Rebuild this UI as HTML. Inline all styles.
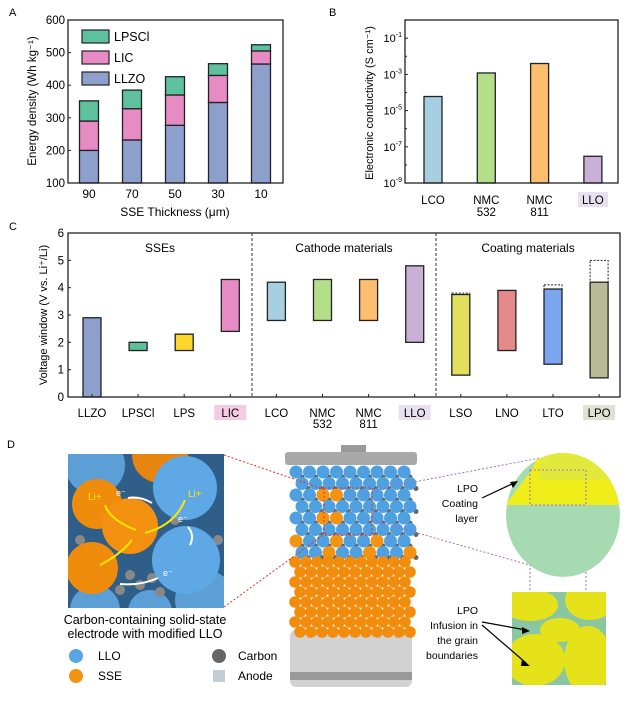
<!DOCTYPE html>
<html><head><meta charset="utf-8"><style>
html,body{margin:0;padding:0;background:#fff;}
svg{display:block;font-family:"Liberation Sans",Arial,sans-serif;}
</style></head><body>
<svg id="fig" width="631" height="705" viewBox="0 0 631 705">
<defs>
<clipPath id="insetClip"><rect x="68" y="454" width="156" height="154"/></clipPath>
<clipPath id="sphClip"><ellipse cx="563" cy="515" rx="57" ry="62"/></clipPath>
<clipPath id="gbClip"><rect x="512" y="592" width="94" height="93"/></clipPath>
</defs>
<text x="9" y="16" font-size="11">A</text>
<text x="329" y="16" font-size="11">B</text>
<text x="9" y="230" font-size="11">C</text>
<text x="7" y="448" font-size="11">D</text>
<g id="gA"></g>
<g id="gB"></g>
<g id="gC"></g>
<g id="gD">
  <g clip-path="url(#insetClip)">
  <rect x="68" y="454" width="156" height="154" fill="#2f5f88"/>
  <circle cx="95" cy="465" r="30" fill="#5b9fd6"/><circle cx="160" cy="455" r="28" fill="#e6850f"/>
  <circle cx="205" cy="600" r="30" fill="#5b9fd6"/><circle cx="95" cy="610" r="25" fill="#5b9fd6"/><circle cx="150" cy="612" r="22" fill="#5b9fd6"/>
  <g fill="#888"><circle cx="130" cy="575" r="5"/><circle cx="140" cy="585" r="5"/><circle cx="152" cy="578" r="5"/><circle cx="175" cy="520" r="5"/><circle cx="80" cy="540" r="5"/><circle cx="218" cy="540" r="5"/><circle cx="120" cy="590" r="5"/><circle cx="160" cy="592" r="5"/></g>
  <circle cx="97" cy="504" r="25" fill="#f08c0c"/>
  <circle cx="185" cy="488" r="32" fill="#5ea8e6"/>
  <circle cx="186" cy="560" r="34" fill="#5ea8e6"/>
  <circle cx="130" cy="526" r="28" fill="#f4900f"/>
  <circle cx="92" cy="568" r="26" fill="#f08c0c"/>
  </g>
  <text x="88" y="500" font-size="10" fill="#ffe600">Li+</text>
  <text x="188" y="497" font-size="10" fill="#ffe600">Li+</text>
  <text x="116" y="496" font-size="9" fill="#fff">e⁻</text>
  <text x="178" y="522" font-size="9" fill="#fff">e⁻</text>
  <text x="163" y="576" font-size="9" fill="#fff">e⁻</text>
  <path d="M105,505 Q110,520 136,530 M185,500 Q175,525 145,533 M132,540 Q120,555 100,565" stroke="#ffe600" stroke-width="2" fill="none"/>
  <path d="M128,498 Q140,496 152,503 M188,527 Q195,535 190,545 M158,578 Q140,586 120,584" stroke="#fff" stroke-width="2" fill="none"/>
  <text x="145" y="624" font-size="12.5" text-anchor="middle">Carbon-containing solid-state</text>
  <text x="145" y="638" font-size="12.5" text-anchor="middle">electrode with modified LLO</text>
  <circle cx="76" cy="656" r="7" fill="#5aa6e4"/>
  <text x="98" y="660" font-size="12">LLO</text>
  <circle cx="76" cy="676" r="7" fill="#f29312"/>
  <text x="98" y="680" font-size="12">SSE</text>
  <circle cx="219" cy="656" r="7" fill="#666"/>
  <text x="238" y="660" font-size="12">Carbon</text>
  <rect x="213" y="670" width="12" height="12" fill="#c4ccd6"/>
  <text x="238" y="680" font-size="12">Anode</text>
  <!-- battery -->
  <rect x="341" y="445" width="25" height="9" fill="#9a9a9a"/>
  <rect x="285" y="452" width="132" height="13" rx="3" fill="#a9a9a9"/>
  <rect x="290" y="630" width="122" height="57" rx="6" fill="#d2d2d2"/>
  <rect x="290" y="672" width="122" height="8" fill="#9a9a9a"/>
  <g id="bat"></g>
  <rect x="324" y="488" width="48" height="47" fill="none" stroke="#e03030" stroke-dasharray="2,2"/>
  <path d="M224,455 L326,490 M224,607 L326,533" stroke="#e03030" stroke-dasharray="2,2" fill="none"/>
  <path d="M372,490 L540,458 M372,520 L540,568 M530,488 L530,592 M586,488 L586,592" stroke="#a070c0" stroke-dasharray="2,2" fill="none"/>
  <!-- sphere -->
  <g clip-path="url(#sphClip)">
  <ellipse cx="563" cy="515" rx="57" ry="62" fill="#a6dbb2"/>
  <path d="M505,505 L620,505 L620,450 L540,450 L532,470 Z" fill="#f0ee1a"/>
  <rect x="540" y="450" width="80" height="30" fill="#e3e93a"/>
  </g>
  <rect x="530" y="470" width="56" height="35" fill="none" stroke="#a070c0" stroke-dasharray="2,2"/>
  <text x="478" y="492" font-size="10.5" text-anchor="end">LPO</text>
  <text x="478" y="507" font-size="10.5" text-anchor="end">Coating</text>
  <text x="478" y="522" font-size="10.5" text-anchor="end">layer</text>
  <path d="M482,498 L514,483" stroke="#000" stroke-width="1.2"/>
  <polygon points="518,481 510,482 513,488"/>
  <g clip-path="url(#gbClip)">
  <rect x="512" y="592" width="94" height="93" fill="#8ac6a0"/>
  <ellipse cx="530" cy="605" rx="28" ry="16" fill="#e6e21a"/>
  <ellipse cx="590" cy="600" rx="25" ry="20" fill="#e6e21a"/>
  <ellipse cx="535" cy="660" rx="30" ry="26" fill="#e6e21a"/>
  <ellipse cx="588" cy="660" rx="24" ry="34" fill="#e6e21a"/>
  <ellipse cx="560" cy="630" rx="20" ry="12" fill="#e6e21a"/>
  </g>
  <text x="478" y="614" font-size="10.5" text-anchor="end">LPO</text>
  <text x="478" y="629" font-size="10.5" text-anchor="end">Infusion in</text>
  <text x="478" y="644" font-size="10.5" text-anchor="end">the grain</text>
  <text x="478" y="659" font-size="10.5" text-anchor="end">boundaries</text>
  <path d="M482,622 L526,630 M482,625 L526,663" stroke="#000" stroke-width="1.2"/>
  <polygon points="530,631 522,627 522,634"/><polygon points="530,666 522,659 521,666"/>
</g>
</svg>
<script>
const NS="http://www.w3.org/2000/svg";
function mk(p,t,a,txt){const e=document.createElementNS(NS,t);for(const k in a)e.setAttribute(k,a[k]);if(txt!==undefined)e.textContent=txt;p.appendChild(e);return e;}

// ---- Panel A data ----
const thicknessLabels=["90","70","50","30","10"];
const llzoEnergy=[200,232,277,347,465];
const licEnergy=[290,328,370,430,505];
const lpsclEnergy=[352,385,426,466,524];
const aTicks=[100,200,300,400,500,600];

// ---- Panel B data ----
const bCats=["LCO","NMC","NMC","LLO"];
const bCats2=["","532","811",""];
const bConduct=[6e-5,1.2e-3,4e-3,3e-8];
const bTickExp=[-1,-3,-5,-7,-9];

// ---- Panel C data ----
const cCats=["LLZO","LPSCl","LPS","LIC","LCO","NMC","NMC","LLO","LSO","LNO","LTO","LPO"];
const cCats2=["","","","","","532","811","","","","",""];
const cLow=[0,1.7,1.7,2.4,2.8,2.8,2.8,2.0,0.8,1.7,1.2,0.7];
const cHigh=[2.9,2.0,2.3,4.3,4.2,4.3,4.3,4.8,3.75,3.9,3.95,4.2];
const cDotted=[null,null,null,null,null,null,null,null,3.8,null,4.1,5.0];
const cTicks=[0,1,2,3,4,5,6];

// Panel A
(function(){
 const g=document.getElementById('gA');
 const L=68,R=283,T=20,B=183;
 const y=v=>B-(v-100)*(B-T)/500;
 const x=i=>89+i*43;
 const cols={llzo:"#8d9fcb",lic:"#e68bc3",lpscl:"#5cc19c"};
 for(let i=0;i<thicknessLabels.length;i++){
  const w=19,xx=x(i)-w/2;
  let r=mk(g,'rect',{x:xx,y:y(llzoEnergy[i]),width:w,height:y(100)-y(llzoEnergy[i]),fill:cols.llzo,stroke:"#222","stroke-width":1.3});
  
  r=mk(g,'rect',{x:xx,y:y(licEnergy[i]),width:w,height:y(llzoEnergy[i])-y(licEnergy[i]),fill:cols.lic,stroke:"#222","stroke-width":1.3});
  
  r=mk(g,'rect',{x:xx,y:y(lpsclEnergy[i]),width:w,height:y(licEnergy[i])-y(lpsclEnergy[i]),fill:cols.lpscl,stroke:"#222","stroke-width":1.3});
  
  const t=mk(g,'text',{x:x(i),y:198,"font-size":12,"text-anchor":"middle"},thicknessLabels[i]);
  
 }
 const f=mk(g,'rect',{x:L,y:T,width:R-L,height:B-T,fill:"none",stroke:"#222","stroke-width":1.3});
 
 aTicks.forEach(v=>{mk(g,'line',{x1:L,x2:L+3,y1:y(v),y2:y(v),stroke:"#222"});
  const t=mk(g,'text',{x:L-3,y:y(v)+4,"font-size":11.5,"text-anchor":"end"},v);
  });
 const leg=[["LPSCl",cols.lpscl,36],["LIC",cols.lic,57],["LLZO",cols.llzo,78]];
 leg.forEach(l=>{const r=mk(g,'rect',{x:82,y:l[2]-6,width:27,height:13,fill:l[1],stroke:"#222","stroke-width":1.2});
  
  const t=mk(g,'text',{x:114,y:l[2]+5,"font-size":12.5},l[0]);
  });
 let t=mk(g,'text',{x:175,y:216,"font-size":12,"text-anchor":"middle"},"SSE Thickness (μm)");
 
 t=mk(g,'text',{x:0,y:0,"font-size":11.5,"text-anchor":"middle",transform:"translate(36,101) rotate(-90)"},"Energy density (Wh kg⁻¹)");
 
})();

// Panel B
(function(){
 const g=document.getElementById('gB');
 const L=405,R=618,T=20,B=183;
 const y=v=>B-(Math.log10(v)+9)*18.1;
 const x=i=>433+i*53.3;
 const cols=["#a6cfe2","#b3de8a","#fdbf6f","#c9b0d6"];
 mk(g,'rect',{x:x(3)-15,y:192,width:30,height:15,fill:"#e8dff0"});
 for(let i=0;i<bCats.length;i++){
  const r=mk(g,'rect',{x:x(i)-9,y:y(bConduct[i]),width:18,height:B-y(bConduct[i]),fill:cols[i],stroke:"#222","stroke-width":1.3});
  
  let t=mk(g,'text',{x:x(i),y:204,"font-size":11.5,"text-anchor":"middle"},bCats[i]);
  
  if(bCats2[i]){t=mk(g,'text',{x:x(i),y:216,"font-size":11.5,"text-anchor":"middle"},bCats2[i]);
   }
 }
 const f=mk(g,'rect',{x:L,y:T,width:R-L,height:B-T,fill:"none",stroke:"#222","stroke-width":1.3});
 
 bTickExp.forEach(e=>{const yy=y(Math.pow(10,e));mk(g,'line',{x1:L,x2:L+3,y1:yy,y2:yy,stroke:"#222"});
  mk(g,'line',{x1:L,x2:L+2,y1:yy-18.1,y2:yy-18.1,stroke:"#222"});
  const t=mk(g,'text',{x:L-3,y:yy+4,"font-size":11,"text-anchor":"end"});
  
  t.appendChild(document.createTextNode("10"));
  mk(t,'tspan',{dy:-5,"font-size":7},String(e));});
 const t=mk(g,'text',{x:0,y:0,"font-size":11,"text-anchor":"middle",transform:"translate(373,103) rotate(-90)"},"Electronic conductivity (S cm⁻¹)");
 
})();

// Panel C
(function(){
 const g=document.getElementById('gC');
 const L=68,R=620,T=233,B=397;
 const y=v=>B-v*(B-T)/6;
 const x=i=>92+i*46.1;
 const cols=["#8d9fcb","#5cc19c","#fdd52c","#e68bc3","#a6cfe2","#b3de8a","#fdbf6f","#c9b0d6","#e2df5d","#e58a8a","#7ca7ef","#b8bb96"];
 const hl={3:"#f4cbe3",7:"#e8dff0",11:"#dfe2d2"};
 for(const k in hl) mk(g,'rect',{x:x(+k)-16,y:405,width:32,height:15,fill:hl[k]});
 for(let i=0;i<cCats.length;i++){
  if(cDotted[i]!==null){const d=mk(g,'rect',{x:x(i)-9,y:y(cDotted[i]),width:18,height:y(cHigh[i])-y(cDotted[i]),fill:"none",stroke:"#222","stroke-dasharray":"2,1.5"});
   }
  const r=mk(g,'rect',{x:x(i)-9,y:y(cHigh[i]),width:18,height:y(cLow[i])-y(cHigh[i]),fill:cols[i],stroke:"#222","stroke-width":1.3});
  
  mk(g,'line',{x1:x(i),x2:x(i),y1:B,y2:B-3,stroke:"#222"});
  let t=mk(g,'text',{x:x(i),y:417,"font-size":11.5,"text-anchor":"middle"},cCats[i]);
  
  if(cCats2[i]){t=mk(g,'text',{x:x(i),y:428,"font-size":11.5,"text-anchor":"middle"},cCats2[i]);
   }
 }
 const f=mk(g,'rect',{x:L,y:T,width:R-L,height:B-T,fill:"none",stroke:"#222","stroke-width":1.3});
 
 [252,436].forEach(xx=>{const l=mk(g,'line',{x1:xx,x2:xx,y1:T,y2:B,stroke:"#333","stroke-dasharray":"3,2"});
  });
 [["SSEs",160],["Cathode materials",344],["Coating materials",528]].forEach(s=>{
  const t=mk(g,'text',{x:s[1],y:252,"font-size":12,"text-anchor":"middle"},s[0]);
  });
 cTicks.forEach(v=>{mk(g,'line',{x1:L,x2:L+3,y1:y(v),y2:y(v),stroke:"#222"});
  const t=mk(g,'text',{x:L-4,y:y(v)+4,"font-size":11.5,"text-anchor":"end"},v);
  });
 const t=mk(g,'text',{x:0,y:0,"font-size":11,"text-anchor":"middle",transform:"translate(47,315) rotate(-90)"},"Voltage window (V vs. Li⁺/Li)");
 
})();

// battery particles
(function(){
 const g=document.getElementById('bat');
 for(let r=0;r<8;r++){for(let c=0;c<9;c++){
  const cx=296+c*13.5+(r%2)*6, cy=472+r*11.5;
  if(cx>410)continue;
  mk(g,'circle',{cx:cx+6,cy:cy+5,r:2.5,fill:"#666"});
  const orange=(r>=2&&r<=5&&(c==2||c==3)&&r%2==0)||(r>=6&&(c+r)%3==0);
  mk(g,'circle',{cx:cx,cy:cy,r:6.5,fill:orange?"#f29312":"#4fa0e0"});
 }}
 for(let r=0;r<8;r++){for(let c=0;c<11;c++){
  const cx=295+c*11+(r%2)*5, cy=562+r*10;
  if(cx>410)continue;
  mk(g,'circle',{cx:cx,cy:cy,r:5.8,fill:"#f28c0c"});
 }}
})();
</script>
</body></html>
